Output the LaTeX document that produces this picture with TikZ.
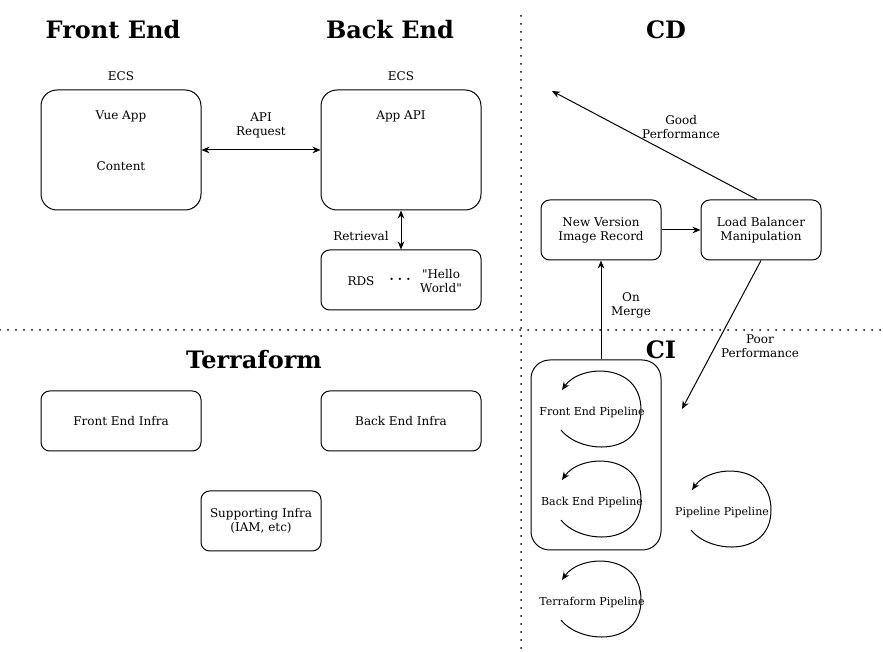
\documentclass[tikz,border=0pt]{standalone}
\usepackage{fontspec}
\setmainfont{DejaVu Serif}[Ligatures=TeXOff]
\usetikzlibrary{arrows.meta,positioning}

\begin{document}
\begin{tikzpicture}[x=0.75pt, y=-0.75pt, line width=0.75pt, >={Stealth[length=6pt,width=5pt]},
    txt/.style={font=\fontsize{9}{10.5}\selectfont, align=center, inner sep=0pt},
    title/.style={font=\fontsize{18}{22}\selectfont\bfseries, inner sep=0pt},
    ecsbox/.style={draw, rounded corners=12pt, minimum width=120pt, minimum height=90pt},
    infrabox/.style={draw, txt, rounded corners=6.5pt, minimum width=120pt, minimum height=45pt},
    cdbox/.style={draw, txt, rounded corners=6.5pt, minimum width=90pt, minimum height=45pt},
    pipe/.style={font=\fontsize{8.25}{10}\selectfont, inner sep=0pt},
    divider/.style={line width=1.5pt, line cap=round, dash pattern=on 0pt off 6pt}]
    \useasboundingbox (0,0) rectangle (883,652);

    % Dividers
    \draw[divider] (521,16) -- (521,652);
    \draw[divider] (0,330) -- (883,330);

    % Titles
    \node[title] (fronttitle) at (113,30) {Front End};
    \node[title] (backtitle) at (390,30) {Back End};
    \node[title] (cdtitle) at (666,30) {CD};
    \node[title] (tftitle) at (254,360) {Terraform};
    \node[title] (cititle) at (661,350) {CI};

    % Front End
    \node[txt] (feecs) at (121,76) {ECS};
    \node[ecsbox] (feapp) at (121,150) {};
    \node[txt] (vueapp) at (121,116) {Vue App};
    \node[txt] (content) at (121,166) {Content};

    % Back End
    \node[txt] (beecs) at (401,76) {ECS};
    \node[ecsbox] (beapp) at (401,150) {};
    \node[txt] (appapi) at (401,116) {App API};
    \node[infrabox] (rds) at (401,280) {};
    \node[txt] (rdslabel) at (361,281) {RDS};
    \node[txt] (rdsdots) at (400,281) {\textbf{· · ·}};
    \node[txt] (hello) at (441,281) {"Hello\\World"};

    \draw[<->] (feapp) -- node[txt, midway, yshift=18.5pt] {API\\Request} (beapp);
    \draw[<->] (beapp) -- node[txt, midway, xshift=-30pt, yshift=-4.5pt] {Retrieval} (rds);

    % CD
    \node[cdbox] (newver) at (601,230) {New Version\\Image Record};
    \node[cdbox] (lbman) at (761,230) {Load Balancer\\Manipulation};
    \coordinate (goodend) at (552,91);
    \coordinate (poorend) at (682,409);
    \draw[->] (newver) -- (lbman);
    \draw[->] ([xshift=-3pt]lbman.north) -- node[txt, pos=0.37, yshift=24.5pt] {Good\\Performance} (goodend);
    \draw[->] (lbman.south) -- node[txt, pos=0.57, xshift=33pt, yshift=-0.5pt] {Poor\\Performance} (poorend);

    % CI
    \node[draw, rounded corners=14pt, minimum width=97.5pt, minimum height=142.5pt] (cigroup) at (596,455) {};
    \draw[->] ([xshift=3.75pt]cigroup.north) -- node[txt, midway, xshift=22.5pt, yshift=3.5pt] {On\\Merge} (newver.south);

    % Pipelines with their loops
    \node[pipe] (fepipe) at (592,412) {Front End Pipeline};
    \node[pipe] (bepipe) at (592,502) {Back End Pipeline};
    \node[pipe] (tfpipe) at (592,602) {Terraform Pipeline};
    \node[pipe] (pppipe) at (722,512) {Pipeline Pipeline};
    \foreach \p in {fepipe,bepipe,tfpipe,pppipe}{
        \draw[->] ([shift={(-31,18)}]\p.center) .. controls ([shift={(-12,42)}]\p.center) and ([shift={(49,45)}]\p.center) .. ([shift={(49,-2)}]\p.center)
            .. controls ([shift={(49,-50)}]\p.center) and ([shift={(-12,-48)}]\p.center) .. ([shift={(-30,-22)}]\p.center);
    }

    % Terraform
    \node[infrabox] (feinfra) at (121,421) {Front End Infra};
    \node[infrabox] (beinfra) at (401,421) {Back End Infra};
    \node[infrabox, minimum width=90pt] (support) at (261,521) {Supporting Infra\\(IAM, etc)};
\end{tikzpicture}
\end{document}
